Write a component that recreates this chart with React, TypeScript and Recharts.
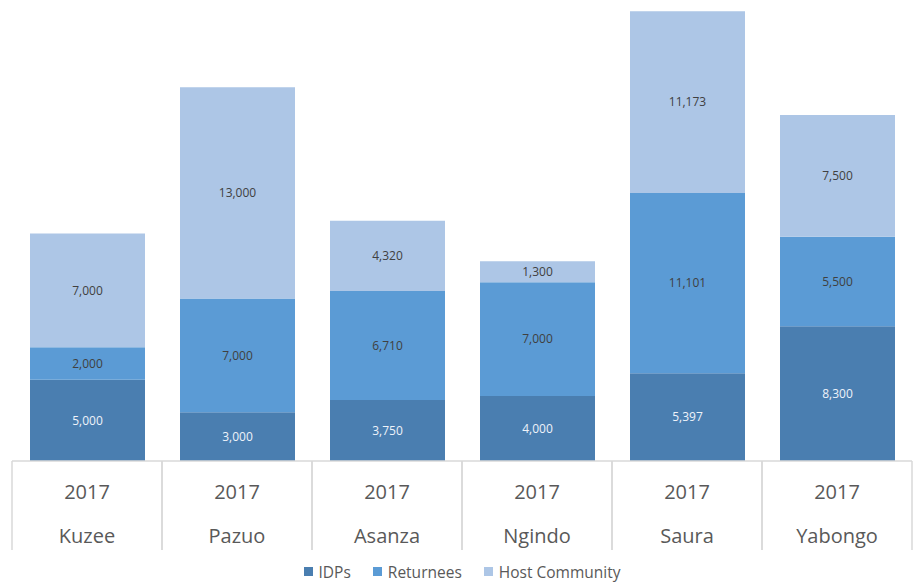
import React from 'react';
import { BarChart, Bar, XAxis, YAxis, LabelList, Legend } from 'recharts';

const locations = ['Kuzee', 'Pazuo', 'Asanza', 'Ngindo', 'Saura', 'Yabongo'];
const years = ['2017', '2017', '2017', '2017', '2017', '2017'];
const idps = [5000, 3000, 3750, 4000, 5397, 8300];
const returnees = [2000, 7000, 6710, 7000, 11101, 5500];
const hostCommunity = [7000, 13000, 4320, 1300, 11173, 7500];

const seriesNames = ['IDPs', 'Returnees', 'Host Community'];
const colors = ['#4a7eb0', '#5b9bd5', '#adc6e6'];

const data = locations.map((loc, i) => ({
  key: i,
  location: loc,
  year: years[i],
  idps: idps[i],
  returnees: returnees[i],
  host: hostCommunity[i],
}));

const FONT = '"Open Sans", "Noto Sans", sans-serif';

const fmt = (v: any) => Number(v).toLocaleString('en-US');

const CategoryTick = (props: any) => {
  const { x, y, payload } = props;
  const i = payload.value as number;
  const half = 75;
  const top = y - 8;
  return (
    <g>
      <line x1={x - half} y1={top} x2={x - half} y2={top + 89} stroke="#d9d9d9" strokeWidth={1.5} />
      <line x1={x + half} y1={top} x2={x + half} y2={top + 89} stroke="#d9d9d9" strokeWidth={1.5} />
      <text x={x} y={top + 30} textAnchor="middle" dominantBaseline="central" fontSize={20} fill="#595959" fontFamily={FONT}>
        {years[i]}
      </text>
      <text x={x} y={top + 74} textAnchor="middle" dominantBaseline="central" fontSize={20} fill="#595959" fontFamily={FONT}>
        {locations[i]}
      </text>
    </g>
  );
};

const LegendContent = () => (
  <div style={{ height: 37, boxSizing: 'border-box', paddingTop: 8, display: 'flex', justifyContent: 'center', alignItems: 'center', fontFamily: FONT, fontSize: 15.5, color: '#595959' }}>
    {seriesNames.map((n, i) => (
      <span key={n} style={{ display: 'inline-flex', alignItems: 'center', marginRight: i < 2 ? 22 : 0 }}>
        <span style={{ display: 'inline-block', width: 9, height: 9, background: colors[i], marginRight: 6 }} />
        {n}
      </span>
    ))}
  </div>
);

export default function App() {
  return (
    <div style={{ position: 'absolute', left: 0, top: 0, background: '#fff' }}>
      <BarChart
        width={916}
        height={586}
        data={data}
        margin={{ top: 6, right: 4, left: 12, bottom: 0 }}
        barSize={115}
      >
        <XAxis
          dataKey="key"
          height={88}
          tick={<CategoryTick />}
          tickLine={false}
          axisLine={{ stroke: '#d9d9d9', strokeWidth: 1.5 }}
          interval={0}
        />
        <YAxis hide domain={[0, 28000]} />
        <Legend verticalAlign="bottom" content={<LegendContent />} wrapperStyle={{ height: 37 }} />
        <Bar dataKey="idps" name="IDPs" stackId="a" fill={colors[0]} isAnimationActive={false}>
          <LabelList dataKey="idps" position="center" formatter={fmt} fill="#eef3fa" fontSize={12} fontFamily={FONT} />
        </Bar>
        <Bar dataKey="returnees" name="Returnees" stackId="a" fill={colors[1]} isAnimationActive={false}>
          <LabelList dataKey="returnees" position="center" formatter={fmt} fill="#404040" fontSize={12} fontFamily={FONT} />
        </Bar>
        <Bar dataKey="host" name="Host Community" stackId="a" fill={colors[2]} isAnimationActive={false}>
          <LabelList dataKey="host" position="center" formatter={fmt} fill="#404040" fontSize={12} fontFamily={FONT} />
        </Bar>
      </BarChart>
    </div>
  );
}
